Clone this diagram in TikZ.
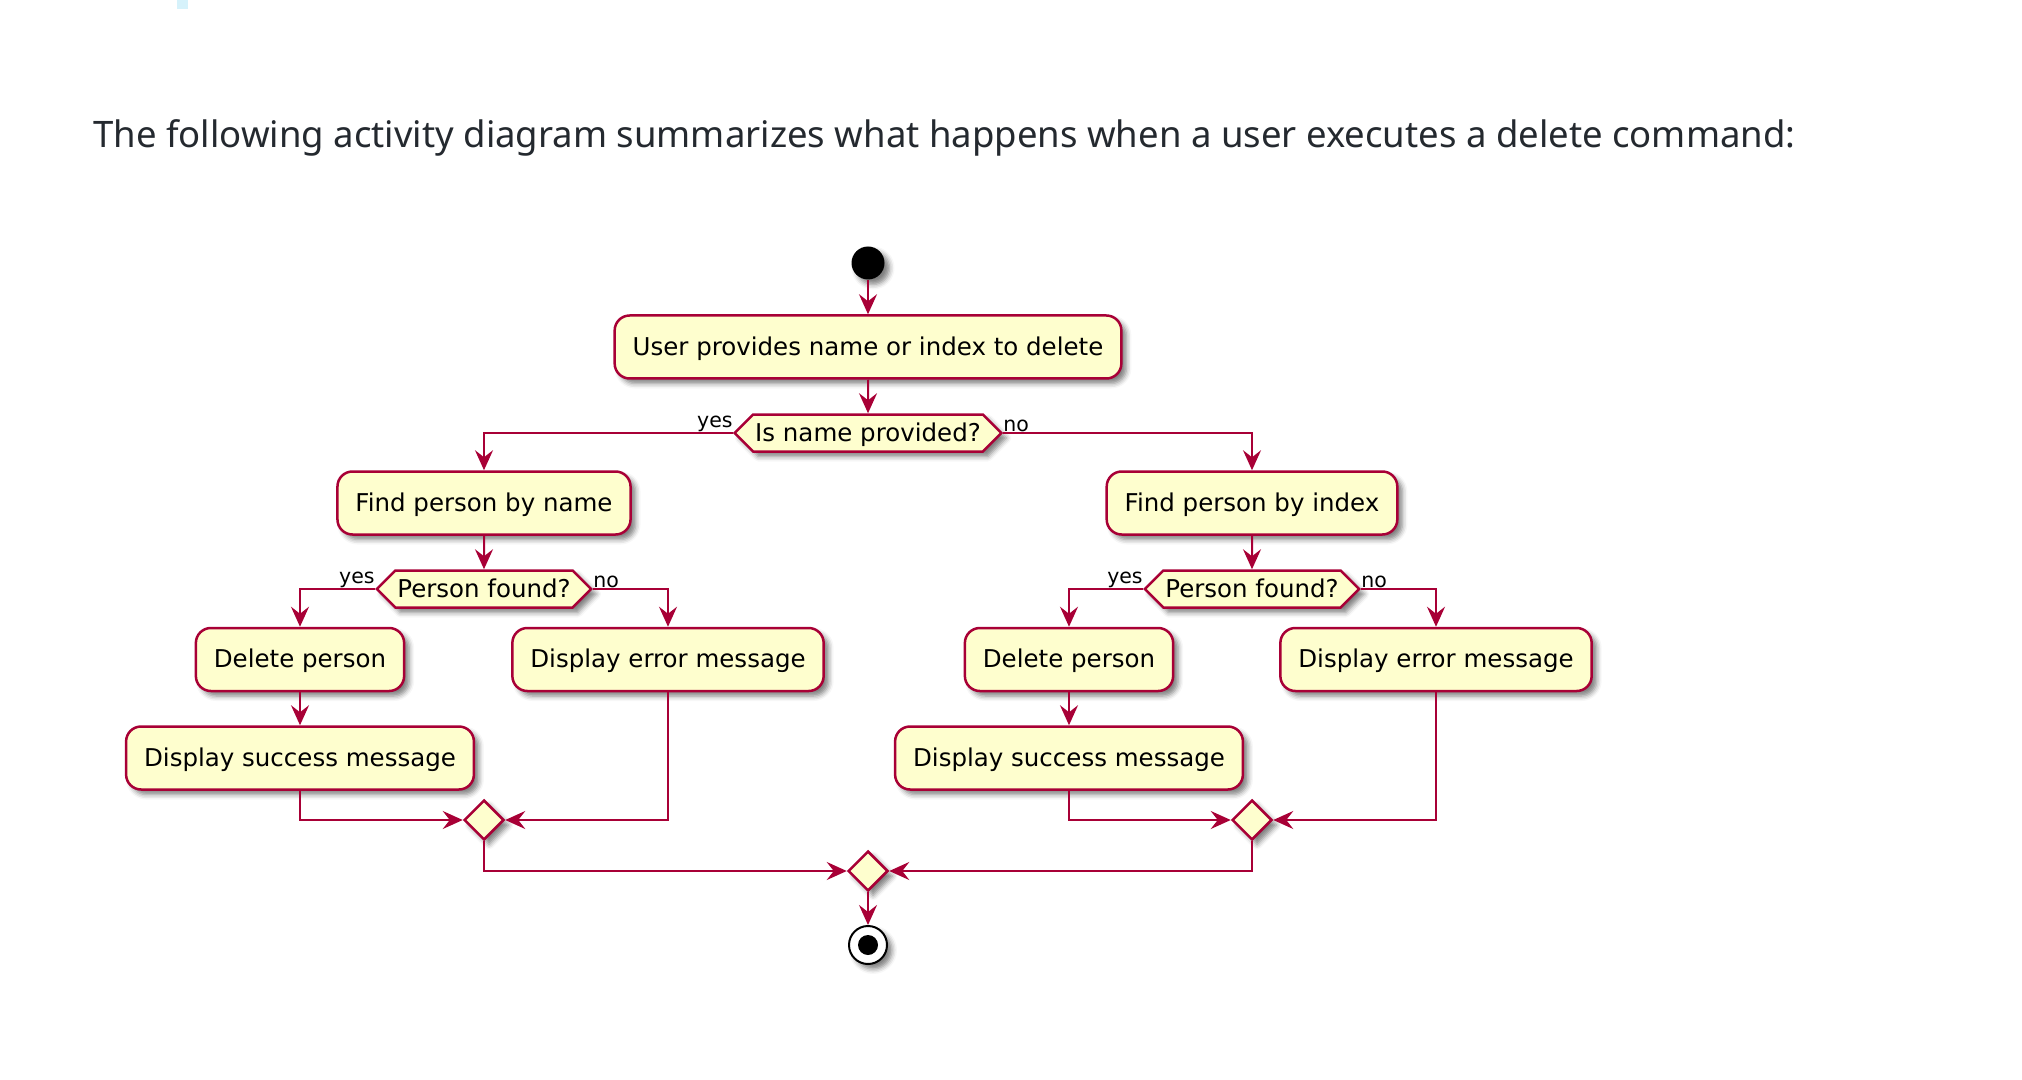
\documentclass[tikz,border=0pt]{standalone}
\usepackage{fontspec}
\setmainfont{Noto Sans}
\newfontfamily\umlfont{DejaVu Sans}
\usepackage{xcolor}
\definecolor{umlFill}{HTML}{FEFECE}
\definecolor{umlRed}{HTML}{A80036}
\definecolor{pageText}{RGB}{36,41,47}
\definecolor{pageBlue}{RGB}{214,242,251}
\usepackage{tikz}
\usetikzlibrary{shapes.geometric, shapes.symbols, arrows.meta, shadows.blur}

\begin{document}
\begin{tikzpicture}[x=0.5pt, y=-0.5pt,
  umlshadow/.style={blur shadow={shadow xshift=2.5pt, shadow yshift=-2.5pt,
                    shadow blur radius=2.5pt, shadow opacity=50}},
  activity/.style={rectangle, draw=umlRed, fill=umlFill, line width=1.25pt,
                   rounded corners=7.5pt, minimum height=31.5pt, inner xsep=9pt,
                   text height=0.92em, text depth=0.08em,
                   font=\umlfont\fontsize{12.25pt}{14pt}\selectfont, umlshadow},
  decision/.style={signal, signal to=east and west, signal pointer angle=90,
                   draw=umlRed, fill=umlFill, line width=1.25pt,
                   inner xsep=1pt, inner ysep=4.25pt,
                   text height=0.94em, text depth=0.06em,
                   font=\umlfont\fontsize{12.25pt}{14pt}\selectfont, umlshadow},
  merge/.style={diamond, draw=umlRed, fill=umlFill, line width=1.25pt,
                minimum size=20pt, inner sep=0pt, umlshadow},
  guard/.style={font=\umlfont\fontsize{10.25pt}{12pt}\selectfont, inner sep=0pt},
  flow/.style={draw=umlRed, line width=1pt,
               -{Stealth[length=10pt, width=9pt, inset=3.5pt]}}]

  \useasboundingbox (0,0) rectangle (2022,1080);

  % ---- Page ----
  \fill[pageBlue] (177,0) rectangle (187.5,9);
  \node[anchor=base west, inner sep=0pt, text=pageText,
        font=\fontsize{18.25pt}{20pt}\selectfont] (intro) at (93,147.3)
        {The following activity diagram summarizes what happens when a user executes a delete command:};

  % ---- Start / Stop ----
  \node[circle, fill=black, minimum size=16.5pt, inner sep=0pt, umlshadow] (start) at (868,263) {};
  \node[circle, draw=black, fill=white, line width=1pt, minimum size=19pt,
        inner sep=0pt, umlshadow] (stop) at (868,945) {};
  \node[circle, fill=black, minimum size=10pt, inner sep=0pt] (stopdot) at (stop) {};

  % ---- Actions ----
  \node[activity] (provide)    at (868,347)   {User provides name or index to delete};
  \node[decision] (isname)     at (868,433)   {Is name provided?};
  \node[activity] (byname)     at (484,503)   {Find person by name};
  \node[activity] (byindex)    at (1252,503)  {Find person by index};
  \node[decision] (foundname)  at (484,589)   {Person found?};
  \node[decision] (foundindex) at (1252,589)  {Person found?};
  \node[activity] (delname)    at (300,659.5) {Delete person};
  \node[activity] (errname)    at (668,659.5) {Display error message};
  \node[activity] (sucname)    at (300,758)   {Display success message};
  \node[activity] (delindex)   at (1069,659.5) {Delete person};
  \node[activity] (errindex)   at (1436,659.5) {Display error message};
  \node[activity] (sucindex)   at (1069,758)  {Display success message};

  % ---- Merges ----
  \node[merge] (mergename)  at (484,820)  {};
  \node[merge] (mergeindex) at (1252,820) {};
  \node[merge] (mergeall)   at (868,871)  {};

  % ---- Guards ----
  \node[guard, anchor=south east, yshift=0.5pt] (yesisname) at (isname.west) {yes};
  \node[guard, anchor=south west, yshift=0.5pt] (noisname)  at (isname.east) {no};
  \node[guard, anchor=south east, yshift=0.5pt] (yesname)   at (foundname.west) {yes};
  \node[guard, anchor=south west, yshift=0.5pt] (noname)    at (foundname.east) {no};
  \node[guard, anchor=south east, yshift=0.5pt] (yesindex)  at (foundindex.west) {yes};
  \node[guard, anchor=south west, yshift=0.5pt] (noindex)   at (foundindex.east) {no};

  % ---- Flows ----
  \draw[flow] (start) -- (provide);
  \draw[flow] (provide) -- (isname);
  \draw[flow] (isname.west) -| (byname.north);
  \draw[flow] (isname.east) -| (byindex.north);

  % by name
  \draw[flow] (byname) -- (foundname);
  \draw[flow] (foundname.west) -| (delname.north);
  \draw[flow] (foundname.east) -| (errname.north);
  \draw[flow] (delname) -- (sucname);
  \draw[flow] (sucname.south) |- (mergename.west);
  \draw[flow] (errname.south) |- (mergename.east);

  % by index
  \draw[flow] (byindex) -- (foundindex);
  \draw[flow] (foundindex.west) -| (delindex.north);
  \draw[flow] (foundindex.east) -| (errindex.north);
  \draw[flow] (delindex) -- (sucindex);
  \draw[flow] (sucindex.south) |- (mergeindex.west);
  \draw[flow] (errindex.south) |- (mergeindex.east);

  % end
  \draw[flow] (mergename.south) |- (mergeall.west);
  \draw[flow] (mergeindex.south) |- (mergeall.east);
  \draw[flow] (mergeall) -- (stop);

\end{tikzpicture}
\end{document}
